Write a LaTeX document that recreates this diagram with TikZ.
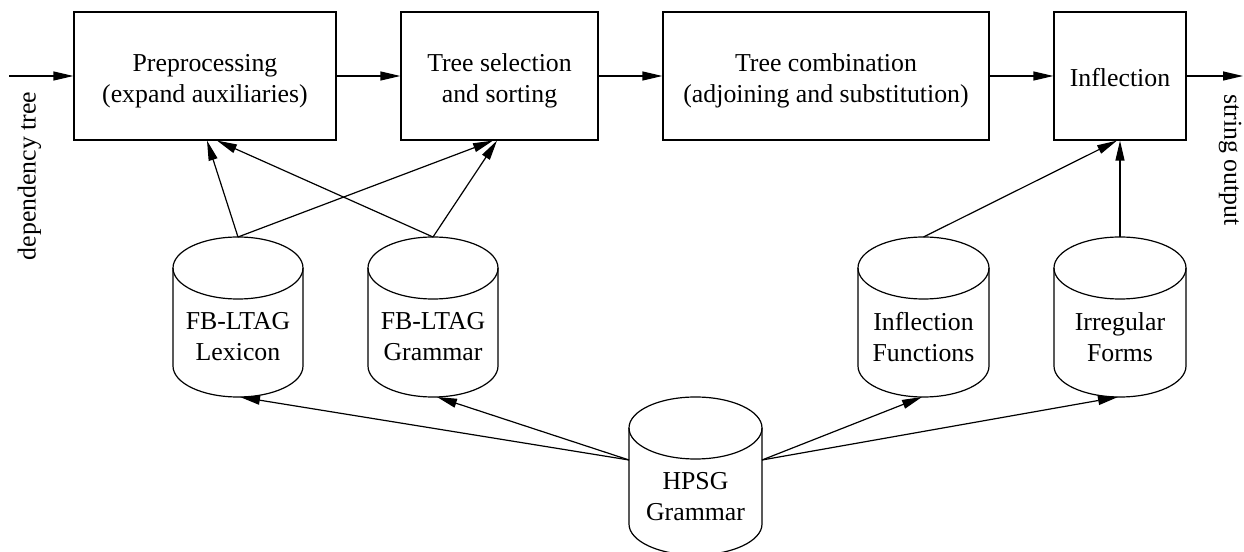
\documentclass[tikz,border=0pt]{standalone}
\usepackage{fontspec}
\setmainfont{Liberation Serif}
\usetikzlibrary{arrows.meta,calc}
\newcommand\cylat[3]{%
  \draw ({#1-#3},#2) -- ({#1-#3},{#2-98}) arc[start angle=180,end angle=360,x radius=#3,y radius=31] -- ({#1+#3},#2);
  \draw (#1,#2) ellipse[x radius=#3,y radius=31];}
\newcommand\cylatb[3]{%
  \draw ({#1-#3},#2) -- ({#1-#3},{#2-96}) arc[start angle=180,end angle=360,x radius=#3,y radius=31] -- ({#1+#3},#2);
  \draw (#1,#2) ellipse[x radius=#3,y radius=31];}
\newcommand\dnshift[1]{\raisebox{-2.3pt}[\height][\depth]{\begin{tabular}{@{}c@{}}#1\end{tabular}}}
\begin{document}
\begin{tikzpicture}[x=0.5pt,y=0.5pt,line width=0.6pt,
  font=\fontsize{12.9}{15.5}\selectfont,
  arr/.style={-{Triangle[length=10pt,width=4.5pt]}},
  procbox/.style={draw,minimum height=64pt,inner sep=0pt},
  cyltext/.style={inner sep=0pt,align=center}]
\useasboundingbox (0,0) rectangle (1244,552);
% process boxes
\node[procbox,minimum width=131pt] (pre) at (205,476) {\dnshift{Preprocessing\\(expand auxiliaries)}};
\node[procbox,minimum width=98.5pt] (sel) at (499.5,476) {\dnshift{Tree selection\\and sorting}};
\node[procbox,minimum width=163pt] (comb) at (826,476) {\dnshift{Tree combination\\(adjoining and substitution)}};
\node[procbox,minimum width=66pt] (infl) at (1120,476) {\dnshift{Inflection}};
% in/out
\coordinate (in) at (9,476);
\coordinate (out) at (1243,476);
\node[rotate=90,inner sep=0pt] (deplabel) at (29.5,376) {dependency tree};
\node[rotate=-90,inner sep=0pt] (outlabel) at (1230,392) {string output};
\draw[arr] (in) -- (pre.west);
\draw[arr] (pre.east) -- (sel.west);
\draw[arr] (sel.east) -- (comb.west);
\draw[arr] (comb.east) -- (infl.west);
\draw[arr] (infl.east) -- (out);
% cylinders
\cylat{238}{284}{65}
\cylat{433}{284}{65}
\cylat{923.5}{284}{65.5}
\cylat{1120}{284}{66}
\cylatb{695.5}{124}{66.5}
\node[cyltext] (lex) at (238,215) {FB-LTAG\\Lexicon};
\node[cyltext] (gram) at (433,215) {FB-LTAG\\Grammar};
\node[cyltext] (ifun) at (923.5,215) {Inflection\\Functions};
\node[cyltext] (irr) at (1120,215) {Irregular\\Forms};
\node[cyltext] (hpsg) at (695.5,55) {HPSG\\Grammar};
\coordinate (lex-top) at (238,315);
\coordinate (gram-top) at (433,315);
\coordinate (ifun-top) at (923.5,315);
\coordinate (irr-top) at (1120,315);
\coordinate (lex-bot) at (240,155);
\coordinate (gram-bot) at (437,155);
\coordinate (ifun-bot) at (922,155);
\coordinate (irr-bot) at (1118,155);
\coordinate (hpsg-l) at (629,92);
\coordinate (hpsg-r) at (762,92);
% connectors up
\draw[arr] (lex-top) -- ($(pre.south)+(2,0)$);
\draw[arr] (lex-top) -- ($(sel.south)+(-6.5,0)$);
\draw[arr] (gram-top) -- ($(pre.south)+(12,0)$);
\draw[arr] (gram-top) -- ($(sel.south)+(-2.5,0)$);
\draw[arr] (ifun-top) -- ($(infl.south)+(-3,0)$);
\draw[arr] (irr-top) -- (infl.south);
% from HPSG
\draw[arr] (hpsg-l) -- (lex-bot);
\draw[arr] (hpsg-l) -- (gram-bot);
\draw[arr] (hpsg-r) -- (ifun-bot);
\draw[arr] (hpsg-r) -- (irr-bot);
\end{tikzpicture}
\end{document}
